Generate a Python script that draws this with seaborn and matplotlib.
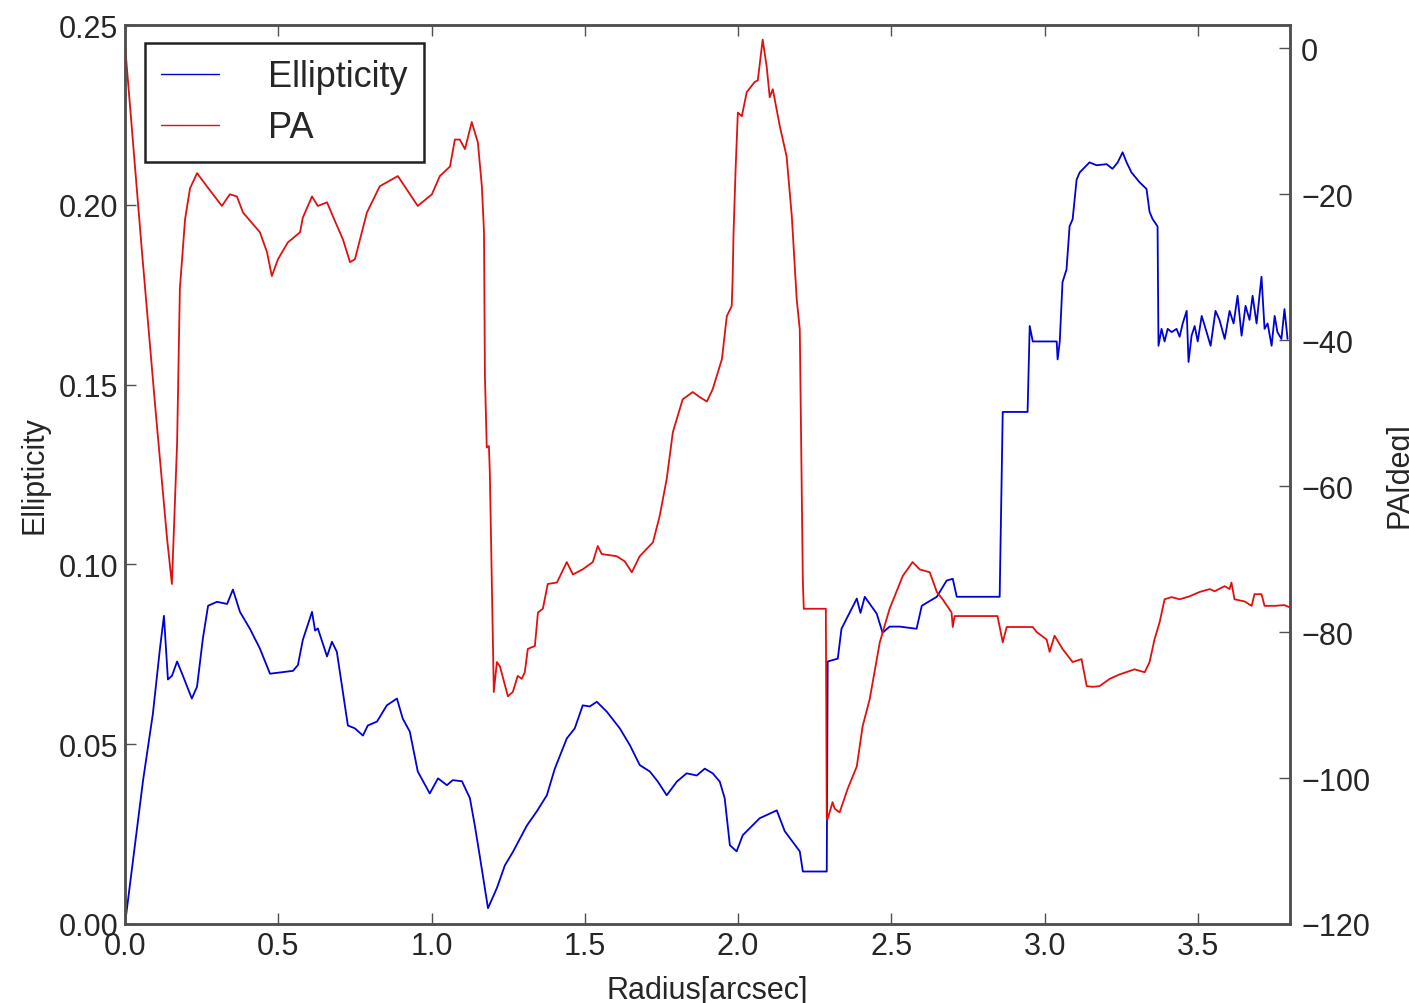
import numpy as np
import pandas as pd
import matplotlib
matplotlib.use("Agg")
import matplotlib.pyplot as plt
import seaborn as sns

# ---- Ellipticity profile ----
ell_radius = [
    0.000, 0.059, 0.091, 0.114, 0.127, 0.140, 0.153, 0.170, 0.189, 0.218,
    0.235, 0.254, 0.271, 0.300, 0.333, 0.352, 0.375, 0.408, 0.440, 0.473,
    0.548, 0.564, 0.580, 0.610, 0.620, 0.629, 0.659, 0.675, 0.691, 0.727,
    0.750, 0.776, 0.792, 0.822, 0.854, 0.887, 0.906, 0.929, 0.955, 0.994,
    1.021, 1.050, 1.069, 1.099, 1.125, 1.141, 1.157, 1.184, 1.213, 1.239,
    1.265, 1.311, 1.343, 1.376, 1.402, 1.441, 1.467, 1.493, 1.516, 1.539,
    1.572, 1.614, 1.647, 1.679, 1.712, 1.738, 1.767, 1.800, 1.832, 1.865,
    1.891, 1.917, 1.940, 1.956, 1.973, 1.995, 2.015, 2.070, 2.126, 2.152,
    2.201, 2.211, 2.289, 2.292, 2.325, 2.337, 2.387, 2.399, 2.413, 2.452,
    2.471, 2.494, 2.527, 2.582, 2.599, 2.648, 2.680, 2.700, 2.713, 2.853,
    2.863, 2.944, 2.951, 2.961, 3.039, 3.042, 3.049, 3.058, 3.071, 3.081,
    3.091, 3.104, 3.114, 3.146, 3.169, 3.202, 3.221, 3.238, 3.254, 3.267,
    3.283, 3.309, 3.332, 3.342, 3.352, 3.368, 3.371, 3.381, 3.391, 3.401,
    3.414, 3.430, 3.440, 3.450, 3.463, 3.469, 3.479, 3.489, 3.499, 3.512,
    3.528, 3.541, 3.557, 3.570, 3.587, 3.603, 3.616, 3.629, 3.642, 3.655,
    3.668, 3.678, 3.691, 3.707, 3.717, 3.727, 3.740, 3.750, 3.759, 3.772,
    3.782, 3.792,
]
ellipticity = [
    0.0000, 0.0400, 0.0585, 0.0766, 0.0857, 0.0680, 0.0690, 0.0730, 0.0690, 0.0627,
    0.0660, 0.0794, 0.0885, 0.0896, 0.0890, 0.0930, 0.0868, 0.0820, 0.0766, 0.0696,
    0.0704, 0.0720, 0.0790, 0.0868, 0.0816, 0.0822, 0.0744, 0.0785, 0.0757, 0.0552,
    0.0544, 0.0524, 0.0552, 0.0563, 0.0608, 0.0627, 0.0571, 0.0535, 0.0424, 0.0363,
    0.0405, 0.0386, 0.0400, 0.0397, 0.0350, 0.0274, 0.0190, 0.0044, 0.0100, 0.0163,
    0.0200, 0.0274, 0.0313, 0.0358, 0.0432, 0.0516, 0.0544, 0.0608, 0.0605, 0.0618,
    0.0590, 0.0544, 0.0497, 0.0442, 0.0424, 0.0396, 0.0358, 0.0396, 0.0419, 0.0413,
    0.0432, 0.0419, 0.0396, 0.0350, 0.0219, 0.0202, 0.0247, 0.0294, 0.0316, 0.0258,
    0.0202, 0.0146, 0.0146, 0.0730, 0.0738, 0.0821, 0.0905, 0.0865, 0.0910, 0.0863,
    0.0810, 0.0827, 0.0827, 0.0821, 0.0885, 0.0910, 0.0955, 0.0960, 0.0910, 0.0910,
    0.1424, 0.1424, 0.1663, 0.1620, 0.1620, 0.1570, 0.1620, 0.1785, 0.1820, 0.1940,
    0.1960, 0.2070, 0.2090, 0.2118, 0.2110, 0.2113, 0.2100, 0.2118, 0.2146, 0.2118,
    0.2090, 0.2063, 0.2044, 0.1980, 0.1960, 0.1940, 0.1608, 0.1655, 0.1620, 0.1655,
    0.1646, 0.1655, 0.1633, 0.1670, 0.1705, 0.1563, 0.1636, 0.1663, 0.1620, 0.1691,
    0.1646, 0.1608, 0.1705, 0.1680, 0.1627, 0.1705, 0.1670, 0.1747, 0.1636, 0.1719,
    0.1680, 0.1747, 0.1670, 0.1800, 0.1655, 0.1670, 0.1608, 0.1691, 0.1646, 0.1627,
    0.1710, 0.1627,
]

# ---- Position angle profile ----
pa_radius = [
    0.000, 0.055, 0.098, 0.137, 0.153, 0.170, 0.179, 0.196, 0.212, 0.235,
    0.267, 0.316, 0.342, 0.365, 0.385, 0.440, 0.463, 0.479, 0.499, 0.531,
    0.571, 0.580, 0.610, 0.629, 0.659, 0.678, 0.711, 0.734, 0.750, 0.789,
    0.831, 0.890, 0.955, 1.001, 1.027, 1.060, 1.076, 1.092, 1.109, 1.131,
    1.151, 1.164, 1.171, 1.174, 1.180, 1.187, 1.190, 1.203, 1.213, 1.223,
    1.249, 1.265, 1.281, 1.294, 1.304, 1.314, 1.337, 1.347, 1.363, 1.379,
    1.409, 1.441, 1.461, 1.493, 1.526, 1.542, 1.555, 1.604, 1.630, 1.653,
    1.679, 1.722, 1.744, 1.767, 1.787, 1.819, 1.852, 1.875, 1.898, 1.917,
    1.947, 1.963, 1.979, 1.982, 1.985, 1.992, 1.999, 2.012, 2.028, 2.054,
    2.064, 2.080, 2.093, 2.103, 2.113, 2.136, 2.158, 2.175, 2.191, 2.201,
    2.207, 2.211, 2.214, 2.286, 2.289, 2.292, 2.308, 2.315, 2.331, 2.357,
    2.387, 2.406, 2.429, 2.462, 2.494, 2.537, 2.569, 2.592, 2.625, 2.648,
    2.667, 2.696, 2.700, 2.706, 2.846, 2.863, 2.876, 2.961, 2.974, 3.006,
    3.016, 3.032, 3.058, 3.091, 3.120, 3.137, 3.156, 3.179, 3.212, 3.244,
    3.293, 3.326, 3.342, 3.358, 3.375, 3.391, 3.414, 3.440, 3.472, 3.505,
    3.538, 3.554, 3.587, 3.603, 3.609, 3.619, 3.652, 3.675, 3.684, 3.707,
    3.717, 3.750, 3.782, 3.799,
]
pa_deg = [
    0.5, -27.7, -48.8, -67.1, -73.4, -54.0, -32.9, -23.4, -19.2, -17.1,
    -18.9, -21.6, -20.0, -20.3, -22.5, -25.2, -27.9, -31.2, -28.9, -26.6,
    -25.2, -23.2, -20.3, -21.6, -21.1, -23.0, -26.2, -29.3, -28.9, -22.5,
    -18.9, -17.5, -21.6, -20.0, -17.5, -16.2, -12.5, -12.5, -13.8, -10.1,
    -12.9, -18.9, -25.2, -44.9, -54.7, -54.5, -58.1, -88.2, -84.1, -84.7,
    -88.8, -88.2, -86.0, -86.4, -85.5, -82.3, -81.9, -77.3, -76.8, -73.4,
    -73.2, -70.4, -72.1, -71.4, -70.4, -68.2, -69.3, -69.6, -70.3, -71.8,
    -69.6, -67.7, -64.1, -59.0, -52.6, -48.1, -47.1, -47.8, -48.4, -46.7,
    -42.6, -36.7, -35.3, -31.6, -25.2, -16.2, -8.8, -9.3, -6.0, -4.6,
    -4.4, 1.2, -2.5, -6.7, -5.6, -10.7, -14.8, -23.0, -34.4, -38.5,
    -59.0, -73.0, -76.8, -76.8, -105.6, -105.6, -103.3, -104.2, -104.7, -101.5,
    -98.4, -92.9, -89.2, -81.4, -76.8, -72.3, -70.4, -71.4, -71.8, -74.5,
    -75.5, -77.3, -79.3, -77.8, -77.8, -81.4, -79.3, -79.3, -80.0, -81.0,
    -82.7, -80.5, -82.3, -84.1, -83.7, -87.4, -87.5, -87.4, -86.4, -85.8,
    -85.1, -85.5, -84.1, -81.0, -78.6, -75.5, -75.2, -75.5, -75.1, -74.5,
    -74.1, -74.4, -73.7, -74.1, -73.2, -75.5, -75.8, -76.4, -74.8, -74.8,
    -76.4, -76.4, -76.3, -76.6,
]

x_ticks = [0.0, 0.5, 1.0, 1.5, 2.0, 2.5, 3.0, 3.5]
ell_ticks = [0.00, 0.05, 0.10, 0.15, 0.20, 0.25]
pa_ticks = [-120, -100, -80, -60, -40, -20, 0]

ell_df = pd.DataFrame({"Radius": ell_radius, "Ellipticity": ellipticity})
pa_df = pd.DataFrame({"Radius": pa_radius, "PA": pa_deg})

sns.set_style("white")
plt.rcParams["font.family"] = ["Liberation Sans", "DejaVu Sans"]
plt.rcParams["axes.unicode_minus"] = True

fig = plt.figure(figsize=(14.09, 10.04), dpi=100)
ax = fig.add_axes([125 / 1409, 1 - 925 / 1004, (1290 - 125) / 1409, (925 - 26) / 1004])
ax2 = ax.twinx()

sns.lineplot(data=ell_df, x="Radius", y="Ellipticity", ax=ax, color="#0000d8",
             linewidth=1.3, estimator=None, sort=False, label="Ellipticity", legend=False)
sns.lineplot(data=pa_df, x="Radius", y="PA", ax=ax2, color="#e01010",
             linewidth=1.3, estimator=None, sort=False, label="PA", legend=False)

ax.set_xlim(0, 3.8)
ax.set_ylim(0, 0.25)
ax2.set_ylim(-120, 3.2)
ax.set_xticks(x_ticks)
ax.set_xticklabels([f"{v:.1f}" for v in x_ticks])
ax.set_yticks(ell_ticks)
ax.set_yticklabels([f"{v:.2f}" for v in ell_ticks])
ax2.set_yticks(pa_ticks)
ax2.set_yticklabels([f"\u2212{abs(v)}" if v < 0 else f"{v}" for v in pa_ticks])

spine_color = "#505050"
for a in (ax, ax2):
    for s in a.spines.values():
        s.set_color(spine_color)
        s.set_linewidth(1.8)

ax.tick_params(axis="x", which="both", direction="in", length=8, width=1,
               top=True, bottom=True, labelsize=22, pad=5, color=spine_color)
ax.tick_params(axis="y", direction="in", length=8, width=1, left=True, right=False,
               labelsize=22, pad=5, color=spine_color)
ax2.tick_params(axis="y", direction="in", length=8, width=1, right=True,
                labelsize=22, pad=8, color=spine_color)

ax.set_xlabel("Radius[arcsec]", fontsize=22, labelpad=10)
ax.set_ylabel("Ellipticity", fontsize=22, labelpad=6)
ax2.set_ylabel("PA[deg]", fontsize=22, labelpad=10)

handles = ax.get_lines()[:1] + ax2.get_lines()[:1]
leg = ax2.legend(handles, ["Ellipticity", "PA"], loc="upper left",
                 bbox_to_anchor=(20 / 1165, 1 - 18 / 899), borderaxespad=0,
                 fontsize=26, frameon=True, fancybox=False, framealpha=1,
                 edgecolor="#222222", handlelength=1.6, handletextpad=1.35,
                 borderpad=0.45, labelspacing=0.45)
leg.get_frame().set_linewidth(1.8)
for line in leg.get_lines():
    line.set_linewidth(1.0)

fig.savefig("out.png", dpi=100)
